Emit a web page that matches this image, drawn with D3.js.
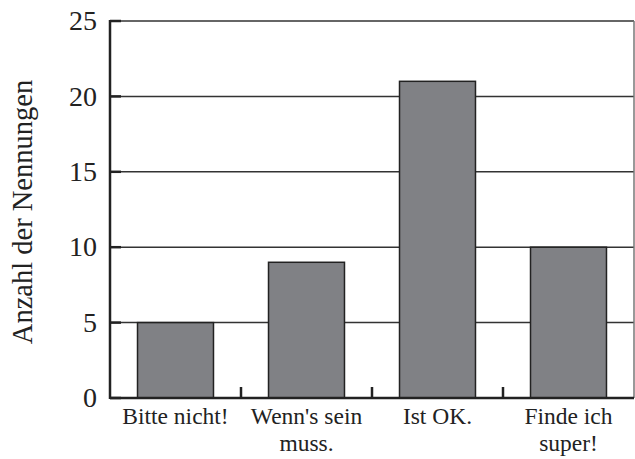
<!DOCTYPE html>
<html><head><meta charset="utf-8">
<script src="https://cdn.jsdelivr.net/npm/d3@7/dist/d3.min.js"></script>
<style>html,body{margin:0;padding:0;background:#fff;} text,tspan{font-family:"Liberation Serif",serif;}</style>
</head><body>
<svg id="c" width="635" height="459"></svg>
<script>
const categories = [["Bitte nicht!"], ["Wenn's sein", "muss."], ["Ist OK."], ["Finde ich", "super!"]];
const values = [5, 9, 21, 10];
const yTicks = [0, 5, 10, 15, 20, 25];
const yLabel = "Anzahl der Nennungen";

const svg = d3.select("#c");
const font = "Liberation Serif, serif";
const L = 110, R = 634, T = 21, B = 398;
const keys = categories.map((c, i) => i);
const x = d3.scaleBand().domain(keys).range([L, R]).paddingInner(0.42).paddingOuter(0.21);
const y = d3.scaleLinear().domain([0, 25]).range([B, T]);

// gridlines
svg.append("g").selectAll("line").data(yTicks.filter(t => t > 0)).join("line")
  .attr("x1", L).attr("x2", R).attr("y1", d => y(d)).attr("y2", d => y(d))
  .attr("stroke", "#333").attr("stroke-width", 1.5);
// right border
svg.append("line").attr("x1", R).attr("x2", R).attr("y1", T).attr("y2", B)
  .attr("stroke", "#777").attr("stroke-width", 1.5);

// bars
svg.append("g").selectAll("rect").data(values).join("rect")
  .attr("x", (d, i) => x(i)).attr("width", x.bandwidth())
  .attr("y", d => y(d)).attr("height", d => B - y(d))
  .attr("fill", "#808185").attr("stroke", "#222").attr("stroke-width", 1.5);

// axes lines
svg.append("line").attr("x1", L).attr("x2", L).attr("y1", T - 1).attr("y2", B + 1)
  .attr("stroke", "#222").attr("stroke-width", 2.5);
svg.append("line").attr("x1", L).attr("x2", R).attr("y1", B).attr("y2", B)
  .attr("stroke", "#222").attr("stroke-width", 2.5);

// y ticks inside
svg.append("g").selectAll("line").data(yTicks).join("line")
  .attr("x1", L).attr("x2", L + 11).attr("y1", d => y(d)).attr("y2", d => y(d))
  .attr("stroke", "#222").attr("stroke-width", 2.5);
svg.append("g").selectAll("text").data(yTicks).join("text")
  .attr("x", 97).attr("y", d => y(d)).attr("dy", "0.33em")
  .attr("text-anchor", "end").attr("font-family", font).attr("font-size", 28)
  .attr("fill", "#222").text(d => d);

// x ticks at category boundaries
const step = x.step();
svg.append("g").selectAll("line").data(keys.slice(0, -1)).join("line")
  .attr("x1", d => x(d) + x.bandwidth() + (step - x.bandwidth()) / 2)
  .attr("x2", d => x(d) + x.bandwidth() + (step - x.bandwidth()) / 2)
  .attr("y1", B).attr("y2", B - 11)
  .attr("stroke", "#222").attr("stroke-width", 2.5);

// x labels
categories.forEach((lines, i) => {
  const t = svg.append("text")
    .attr("x", x(i) + x.bandwidth() / 2).attr("y", 424)
    .attr("text-anchor", "middle").attr("font-family", font).attr("font-size", 23.5)
    .attr("fill", "#222");
  lines.forEach((s, j) => {
    t.append("tspan").attr("x", x(i) + x.bandwidth() / 2).attr("y", 424 + j * 27)
      .attr("font-family", font).text(s);
  });
});

// y label
svg.append("text").attr("transform", "translate(32,212) rotate(-90)")
  .attr("text-anchor", "middle").attr("font-family", font).attr("font-size", 28.5)
  .attr("fill", "#222").text(yLabel);
</script>
</body></html>
